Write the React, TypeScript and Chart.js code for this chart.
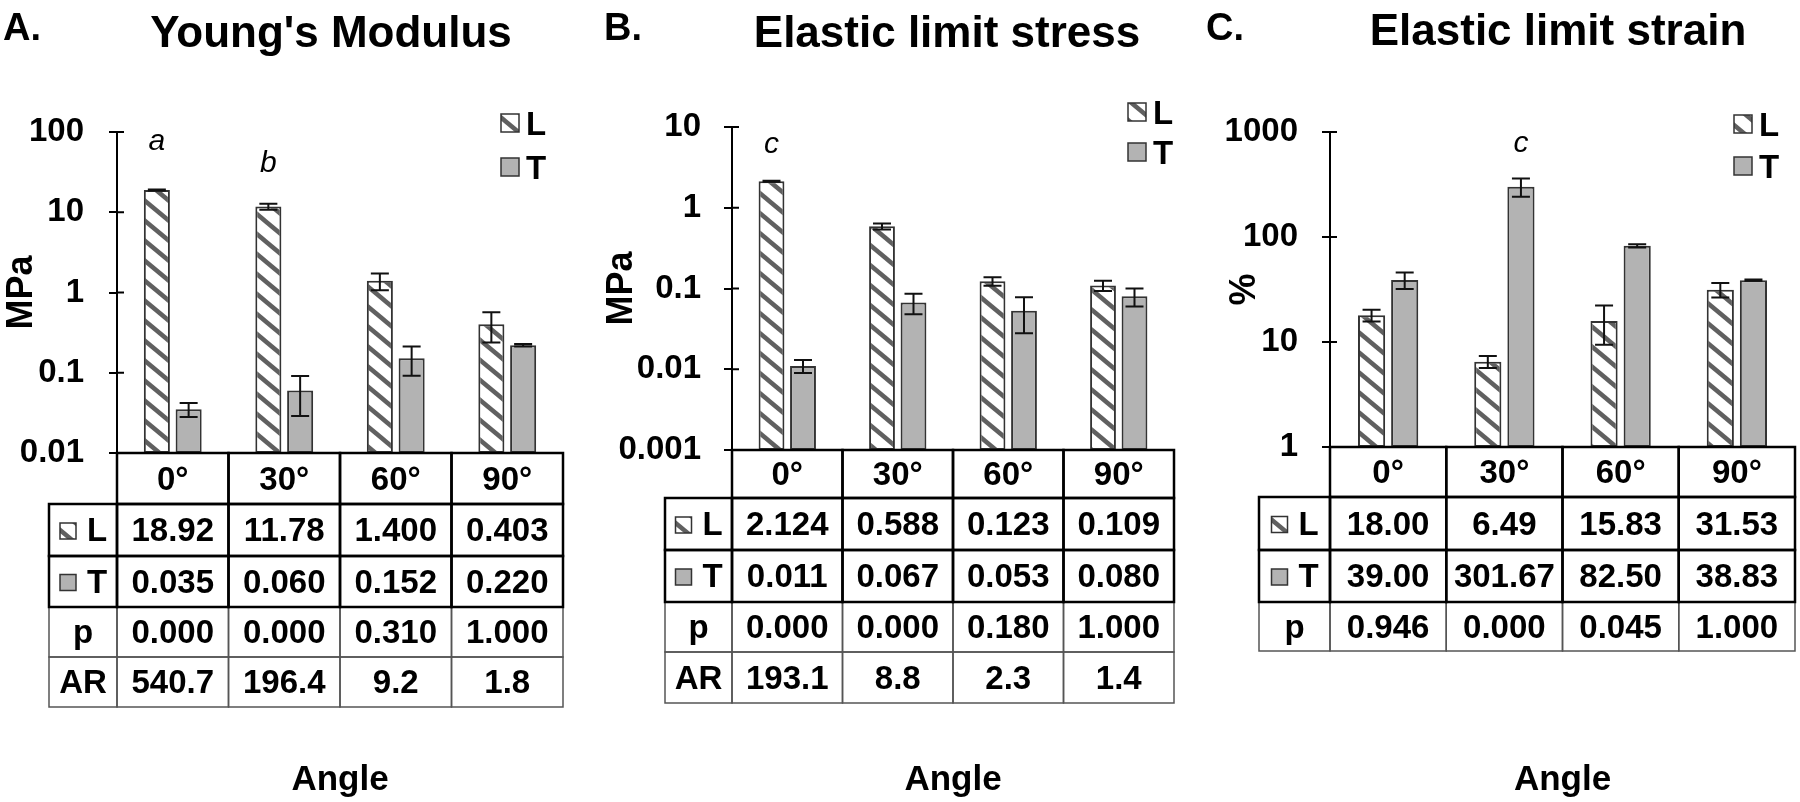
import React, { useEffect, useRef } from 'react';
import { Chart, registerables } from 'chart.js';
Chart.register(...registerables);

const FONT = "'Liberation Sans', Arial, Helvetica, sans-serif";
const GRAY = '#b3b3b3';
const EDGE = '#333333';

// ---- shared categories / series ----
const angles = ['0°', '30°', '60°', '90°'];
const seriesNames = ['L', 'T'];

// ---- A. Young's Modulus (MPa) ----
const youngTicks = [0.01, 0.1, 1, 10, 100];
const youngTickLabels = ['0.01', '0.1', '1', '10', '100'];
const youngL = [18.92, 11.78, 1.4, 0.403];
const youngT = [0.035, 0.06, 0.152, 0.22];
const youngLErr = [0.3, 1.0, 0.33, 0.165];
const youngTErr = [0.007, 0.031, 0.06, 0.008];
const youngP = [0.0, 0.0, 0.31, 1.0];
const youngAR = [540.7, 196.4, 9.2, 1.8];
const youngAnnText = ['a', 'b'];
const youngAnnCat = [0, 1];
const youngAnnSeries = [0, 0];
const youngAnnVal = [60, 32];

// ---- B. Elastic limit stress (MPa) ----
const stressTicks = [0.001, 0.01, 0.1, 1, 10];
const stressTickLabels = ['0.001', '0.01', '0.1', '1', '10'];
const stressL = [2.124, 0.588, 0.123, 0.109];
const stressT = [0.011, 0.067, 0.053, 0.08];
const stressLErr = [0.03, 0.05, 0.015, 0.016];
const stressTErr = [0.002, 0.019, 0.025, 0.02];
const stressP = [0.0, 0.0, 0.18, 1.0];
const stressAR = [193.1, 8.8, 2.3, 1.4];
const stressAnnText = ['c'];
const stressAnnCat = [0];
const stressAnnSeries = [0];
const stressAnnVal = [4.8];

// ---- C. Elastic limit strain (%) ----
const strainTicks = [1, 10, 100, 1000];
const strainTickLabels = ['1', '10', '100', '1000'];
const strainL = [18.0, 6.49, 15.83, 31.53];
const strainT = [39.0, 301.67, 82.5, 38.83];
const strainLErr = [2.3, 0.85, 6.4, 5.0];
const strainTErr = [7, 60, 3, 0.6];
const strainP = [0.946, 0.0, 0.045, 1.0];
const strainAnnText = ['c'];
const strainAnnCat = [1];
const strainAnnSeries = [1];
const strainAnnVal = [645];

type PanelCfg = {
  letter: string; letterX: number; title: string; titleX: number; titleY: number;
  unit: string; unitPad: number;
  L: number[]; T: number[]; LErr: number[]; TErr: number[];
  p: number[]; AR: number[] | null; fmt: (v: number) => string;
  ticks: number[]; tickLabels: string[];
  plot: { left: number; right: number; top: number; bottom: number };
  tickPad: number;
  legend: { x: number; y: number; gap: number };
  annText: string[]; annCat: number[]; annSeries: number[]; annVal: number[];
  rows: number[]; labelW: number;
};

const fmt3 = (v: number) => v.toFixed(v >= 10 ? 2 : 3);
const fmt2 = (v: number) => v.toFixed(2);

const panels: PanelCfg[] = [
  {
    letter: 'A.', letterX: 3, title: "Young's Modulus", titleX: 331, titleY: 47,
    unit: 'MPa', unitPad: 0,
    L: youngL, T: youngT, LErr: youngLErr, TErr: youngTErr, p: youngP, AR: youngAR, fmt: fmt3,
    ticks: youngTicks, tickLabels: youngTickLabels,
    plot: { left: 117, right: 563, top: 132, bottom: 453 }, tickPad: 25,
    legend: { x: 501, y: 114, gap: 44 },
    annText: youngAnnText, annCat: youngAnnCat, annSeries: youngAnnSeries, annVal: youngAnnVal,
    rows: [51, 52, 51, 50, 50], labelW: 68,
  },
  {
    letter: 'B.', letterX: 4, title: 'Elastic limit stress', titleX: 347, titleY: 47,
    unit: 'MPa', unitPad: 0,
    L: stressL, T: stressT, LErr: stressLErr, TErr: stressTErr, p: stressP, AR: stressAR, fmt: fmt3,
    ticks: stressTicks, tickLabels: stressTickLabels,
    plot: { left: 132, right: 574, top: 127, bottom: 450 }, tickPad: 23,
    legend: { x: 528, y: 103, gap: 40 },
    annText: stressAnnText, annCat: stressAnnCat, annSeries: stressAnnSeries, annVal: stressAnnVal,
    rows: [48, 52, 52, 50, 51], labelW: 67,
  },
  {
    letter: 'C.', letterX: 6, title: 'Elastic limit strain', titleX: 358, titleY: 45,
    unit: '%', unitPad: 23,
    L: strainL, T: strainT, LErr: strainLErr, TErr: strainTErr, p: strainP, AR: null, fmt: fmt2,
    ticks: strainTicks, tickLabels: strainTickLabels,
    plot: { left: 130, right: 595, top: 132, bottom: 447 }, tickPad: 24,
    legend: { x: 534, y: 115, gap: 42 },
    annText: strainAnnText, annCat: strainAnnCat, annSeries: strainAnnSeries, annVal: strainAnnVal,
    rows: [50, 53, 52, 49], labelW: 71,
  },
];

function makeHatch(): CanvasPattern {
  const w = 24, h = 20;
  const c = document.createElement('canvas');
  c.width = w; c.height = h;
  const g = c.getContext('2d')!;
  g.fillStyle = '#ffffff';
  g.fillRect(0, 0, w, h);
  g.strokeStyle = '#606060';
  g.lineWidth = 4.5;
  for (const off of [-w, 0, w]) {
    g.beginPath();
    g.moveTo(off - w, -h);
    g.lineTo(off + 2 * w, 2 * h);
    g.stroke();
  }
  return g.createPattern(c, 'repeat')!;
}

const W = 600, H = 802;

function Panel({ cfg, left }: { cfg: PanelCfg; left: number }) {
  const ref = useRef<HTMLCanvasElement>(null);
  useEffect(() => {
    const canvas = ref.current!;
    const hatch = makeHatch();
    const errs = [cfg.LErr, cfg.TErr];
    const fills: (string | CanvasPattern)[] = [hatch, GRAY];

    const decor = {
      id: 'panelDecor',
      afterDraw(chart: any) {
        const ctx = chart.ctx as CanvasRenderingContext2D;
        const xs = chart.scales.x;
        const ys = chart.scales.y;
        const area = chart.chartArea;
        ctx.save();
        ctx.fillStyle = '#000';

        // titles
        ctx.textAlign = 'left';
        ctx.textBaseline = 'alphabetic';
        ctx.font = `bold 38px ${FONT}`;
        ctx.fillText(cfg.letter, cfg.letterX, 40);
        ctx.textAlign = 'center';
        ctx.font = `bold 44px ${FONT}`;
        ctx.fillText(cfg.title, cfg.titleX, cfg.titleY);

        // inner half of tick marks (ticks cross the axis)
        ctx.strokeStyle = '#000';
        ctx.lineWidth = 2;
        ys.ticks.forEach((t: any) => {
          const y = ys.getPixelForValue(t.value);
          ctx.beginPath();
          ctx.moveTo(area.left, y);
          ctx.lineTo(area.left + 7, y);
          ctx.stroke();
        });

        // error bars
        ctx.strokeStyle = '#111';
        ctx.lineWidth = 2;
        [0, 1].forEach((d) => {
          const meta = chart.getDatasetMeta(d);
          const vals = chart.data.datasets[d].data as number[];
          meta.data.forEach((bar: any, i: number) => {
            const v = vals[i];
            const e = errs[d][i];
            const yt = ys.getPixelForValue(v + e);
            const yb = ys.getPixelForValue(Math.max(v - e, ys.min));
            const x = bar.x;
            ctx.beginPath();
            ctx.moveTo(x, yt); ctx.lineTo(x, yb);
            ctx.moveTo(x - 9, yt); ctx.lineTo(x + 9, yt);
            ctx.moveTo(x - 9, yb); ctx.lineTo(x + 9, yb);
            ctx.stroke();
          });
        });

        // legend
        const lg = cfg.legend;
        const box = 18;
        ctx.font = `bold 33px ${FONT}`;
        ctx.textAlign = 'left';
        ctx.textBaseline = 'alphabetic';
        [0, 1].forEach((k) => {
          const by = lg.y + k * lg.gap;
          ctx.fillStyle = fills[k] as any;
          ctx.fillRect(lg.x, by, box, box);
          ctx.strokeStyle = EDGE;
          ctx.lineWidth = 1.5;
          ctx.strokeRect(lg.x, by, box, box);
          ctx.fillStyle = '#000';
          ctx.fillText(seriesNames[k], lg.x + 25, by + box + 3);
        });

        // annotations (significance letters)
        ctx.font = `italic 30px ${FONT}`;
        ctx.textAlign = 'center';
        cfg.annText.forEach((t, j) => {
          const bar = chart.getDatasetMeta(cfg.annSeries[j]).data[cfg.annCat[j]];
          ctx.fillText(t, bar.x, ys.getPixelForValue(cfg.annVal[j]));
        });

        // data table
        const n = angles.length;
        const cw = (xs.right - xs.left) / n;
        const colLeft = (i: number) => xs.getPixelForValue(i) - cw / 2;
        const tops: number[] = [area.bottom];
        cfg.rows.forEach((h) => tops.push(tops[tops.length - 1] + h));
        const lx = xs.left - cfg.labelW;
        const lcx = lx + cfg.labelW / 2;
        const rowTexts: string[][] = [
          angles,
          cfg.L.map(cfg.fmt),
          cfg.T.map(cfg.fmt),
          cfg.p.map((v) => v.toFixed(3)),
        ];
        if (cfg.AR) rowTexts.push(cfg.AR.map((v) => v.toFixed(1)));
        const rowLabels = ['', 'L', 'T', 'p', 'AR'];

        const drawRow = (r: number) => {
          const y0 = tops[r];
          const h = cfg.rows[r];
          const thick = r <= 2;
          ctx.strokeStyle = thick ? '#000' : '#555';
          ctx.lineWidth = thick ? 2.5 : 1.5;
          if (r > 0) ctx.strokeRect(lx, y0, cfg.labelW, h);
          for (let i = 0; i < n; i++) ctx.strokeRect(colLeft(i), y0, cw, h);
          const base = y0 + h / 2 + 11;
          ctx.fillStyle = '#000';
          ctx.font = `bold 33px ${FONT}`;
          ctx.textAlign = 'center';
          ctx.textBaseline = 'alphabetic';
          for (let i = 0; i < n; i++) ctx.fillText(rowTexts[r][i], xs.getPixelForValue(i), base);
          if (r === 1 || r === 2) {
            const bx = lcx - 23, byy = y0 + h / 2 - 7;
            ctx.fillStyle = fills[r - 1] as any;
            ctx.fillRect(bx, byy, 16, 16);
            ctx.strokeStyle = EDGE;
            ctx.lineWidth = 1.5;
            ctx.strokeRect(bx, byy, 16, 16);
            ctx.fillStyle = '#000';
            ctx.textAlign = 'left';
            ctx.fillText(rowLabels[r], lcx + 4, base);
          } else if (r >= 3) {
            ctx.fillText(rowLabels[r], lcx, base);
          }
        };
        for (let r = rowTexts.length - 1; r >= 3; r--) drawRow(r);
        drawRow(2);
        drawRow(1);
        drawRow(0);

        // axis title below table
        ctx.fillStyle = '#000';
        ctx.font = `bold 35px ${FONT}`;
        ctx.textAlign = 'center';
        ctx.textBaseline = 'alphabetic';
        ctx.fillText('Angle', (xs.left + xs.right) / 2, 790);

        ctx.restore();
      },
    };

    const chart = new Chart(canvas, {
      type: 'bar',
      data: {
        labels: angles,
        datasets: [
          {
            label: seriesNames[0], data: cfg.L, backgroundColor: hatch as any,
            borderColor: EDGE, borderWidth: 2, borderSkipped: false,
            categoryPercentage: 0.57, barPercentage: 0.82,
          },
          {
            label: seriesNames[1], data: cfg.T, backgroundColor: GRAY,
            borderColor: EDGE, borderWidth: 2, borderSkipped: false,
            categoryPercentage: 0.57, barPercentage: 0.82,
          },
        ],
      },
      options: {
        animation: false,
        responsive: false,
        devicePixelRatio: 1,
        events: [],
        layout: {
          padding: { left: 0, top: cfg.plot.top, right: W - cfg.plot.right, bottom: H - cfg.plot.bottom },
        },
        plugins: { legend: { display: false }, tooltip: { enabled: false }, title: { display: false } },
        scales: {
          x: { display: false, offset: true, grid: { display: false } },
          y: {
            type: 'logarithmic',
            min: cfg.ticks[0],
            max: cfg.ticks[cfg.ticks.length - 1],
            afterFit: (s: any) => { s.width = cfg.plot.left; },
            afterBuildTicks: (s: any) => { s.ticks = cfg.ticks.map((v) => ({ value: v })); },
            ticks: {
              autoSkip: false,
              padding: cfg.tickPad,
              color: '#000',
              font: { family: FONT, size: 33, weight: 'bold' },
              callback: (_v: any, i: number) => cfg.tickLabels[i],
            },
            grid: { display: true, drawOnChartArea: false, drawTicks: true, tickLength: 8, color: '#000', lineWidth: 2 },
            border: { display: true, color: '#000', width: 2 },
            title: {
              display: true, text: cfg.unit, color: '#000',
              font: { family: FONT, size: 36, weight: 'bold' },
              padding: { top: cfg.unitPad, bottom: 0 },
            },
          } as any,
        },
      },
      plugins: [decor],
    });
    return () => chart.destroy();
  }, [cfg]);

  return (
    <canvas
      ref={ref}
      width={W}
      height={H}
      style={{ position: 'absolute', left, top: 0, width: W, height: H }}
    />
  );
}

export default function App() {
  return (
    <div style={{ position: 'absolute', left: 0, top: 0, width: 1800, height: 802, background: '#fff', overflow: 'hidden' }}>
      {panels.map((p, i) => (
        <Panel key={i} cfg={p} left={i * 600} />
      ))}
    </div>
  );
}
